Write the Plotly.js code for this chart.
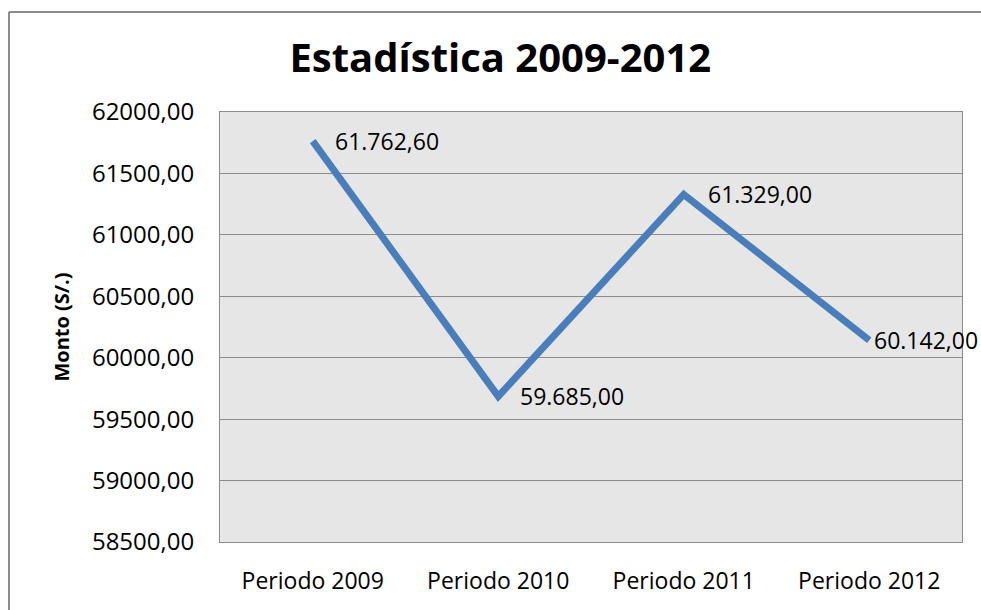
<!DOCTYPE html>
<html>
<head>
<meta charset="utf-8">
<script src="https://cdn.plot.ly/plotly-3.0.1.min.js"></script>
<style>html,body{margin:0;padding:0;background:#fff;overflow:hidden;} #chart{width:981px;height:610px;}</style>
</head>
<body>
<div id="chart"></div>
<script>
const categories = ["Periodo 2009", "Periodo 2010", "Periodo 2011", "Periodo 2012"];
const montos = [61762.60, 59685.00, 61329.00, 60142.00];
const yTicks = [58500, 59000, 59500, 60000, 60500, 61000, 61500, 62000];

const labelShift = [20, 20, 22, 3];

const fontFam = "Open Sans, DejaVu Sans, sans-serif";

const trace = {
  x: categories,
  y: montos,
  type: "scatter",
  mode: "lines",
  line: {color: "#4a7ebb", width: 7},
  hoverinfo: "x+y",
  cliponaxis: false
};

function fmt(v) {
  const s = v.toFixed(2).split(".");
  const intPart = s[0].replace(/\B(?=(\d{3})+(?!\d))/g, ".");
  return intPart + "," + s[1];
}

const annotations = categories.map((c, i) => ({
  x: c, y: montos[i], xref: "x", yref: "y",
  text: fmt(montos[i]),
  showarrow: false, xanchor: "left", yanchor: "middle",
  xshift: labelShift[i],
  font: {family: fontFam, size: 23, color: "#000"}
}));

const L = 220, R = 962, T = 112, B = 542;
const pw = R - L, ph = B - T;
const fx = -(L - 9) / pw;
const fy = (B - 12) / ph;

const layout = {
  width: 981, height: 610,
  margin: {l: L, r: 981 - R, t: T, b: 610 - B, pad: 0},
  paper_bgcolor: "#ffffff",
  plot_bgcolor: "#e6e6e6",
  separators: ",.",
  showlegend: false,
  title: {text: "<b>Estadística 2009-2012</b>", x: 0.51, xanchor: "center", y: 0.905, yanchor: "middle",
          font: {family: fontFam, size: 40, color: "#000"}},
  xaxis: {
    type: "category",
    range: [-0.5, 3.5],
    showgrid: false, zeroline: false,
    showline: true, mirror: true, linecolor: "#8c8c8c", linewidth: 1,
    ticks: "", ticklabelstandoff: 18,
    tickfont: {family: fontFam, size: 23, color: "#000"}
  },
  yaxis: {
    range: [58500, 62000],
    tickvals: yTicks,
    tickformat: ".2f",
    showgrid: true, gridcolor: "#8c8c8c", gridwidth: 1,
    zeroline: false,
    showline: true, mirror: true, linecolor: "#8c8c8c", linewidth: 1,
    ticks: "", ticklabelstandoff: 20,
    tickfont: {family: fontFam, size: 24, color: "#000"},
    title: {text: "<b>Monto (S/.)</b>", standoff: 16, font: {family: fontFam, size: 20, color: "#000"}}
  },
  annotations: annotations,
  shapes: [
    {type: "line", xref: "paper", yref: "paper", x0: fx, x1: 1.1, y0: fy, y1: fy, line: {color: "#8c8c8c", width: 2}},
    {type: "line", xref: "paper", yref: "paper", x0: fx, x1: fx, y0: fy, y1: -0.3, line: {color: "#8c8c8c", width: 2}}
  ]
};

Plotly.newPlot("chart", [trace], layout, {displayModeBar: false, staticPlot: true});
</script>
</body>
</html>
